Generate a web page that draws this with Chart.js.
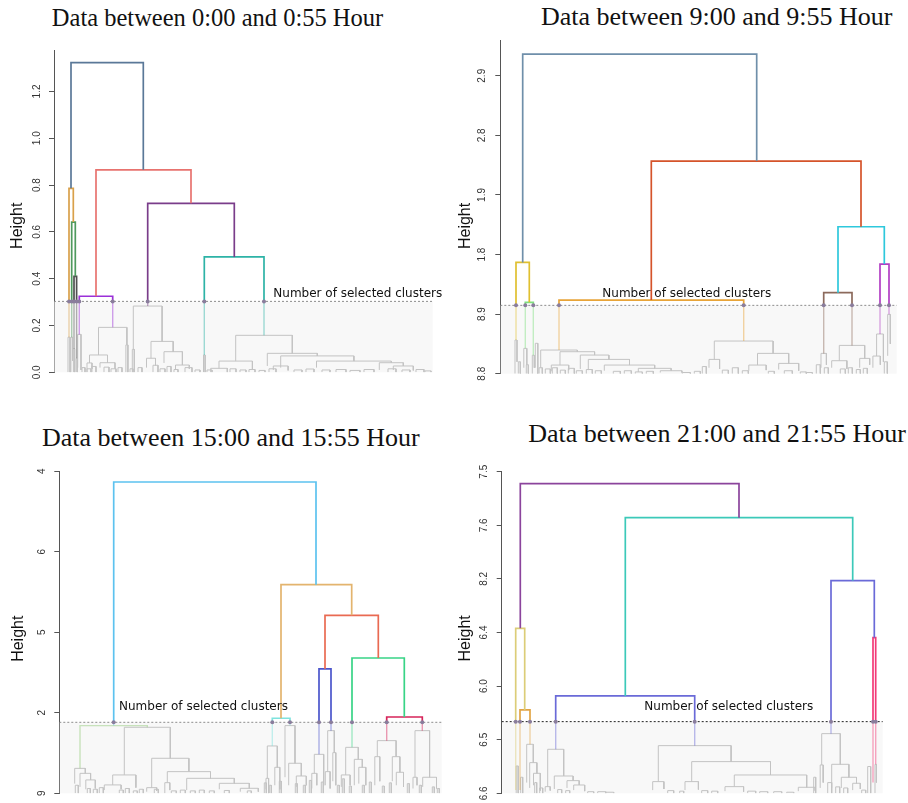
<!DOCTYPE html>
<html>
<head>
<meta charset="utf-8">
<script src="https://cdn.jsdelivr.net/npm/chart.js@4.4.1/dist/chart.umd.min.js"></script>
<style>
html, body { margin: 0; padding: 0; background: #fff; overflow: hidden; }
body { width: 908px; height: 803px; position: relative; }
.title { position: absolute; width: 500px; text-align: center; font-family: 'Liberation Serif', serif; line-height: 1; color: #111; white-space: nowrap; }
canvas { position: absolute; }
</style>
</head>
<body>
<div class="title" style="left:-32.5px; top:6px; font-size:24.5px">Data between 0:00 and 0:55 Hour</div>
<div class="title" style="left:466.7px; top:4.3px; font-size:26px">Data between 9:00 and 9:55 Hour</div>
<div class="title" style="left:-19.2px; top:424.8px; font-size:26px">Data between 15:00 and 15:55 Hour</div>
<div class="title" style="left:467px; top:421px; font-size:26px">Data between 21:00 and 21:55 Hour</div>
<canvas id="c1" width="450" height="390" style="left:0; top:0"></canvas>
<canvas id="c2" width="453" height="390" style="left:455px; top:0"></canvas>
<canvas id="c3" width="450" height="403" style="left:0; top:400px"></canvas>
<canvas id="c4" width="453" height="403" style="left:455px; top:400px"></canvas>
<script>
// merges are [left x, right x, height, left child height, right child height]
// x is the leaf position along the tree, leaves are [left x, right x, height]

// ---- 0:00 - 0:55
const p1Ticks = [0, 0.2, 0.4, 0.6, 0.8, 1.0, 1.2];
const p1TickLabels = ['0.0', '0.2', '0.4', '0.6', '0.8', '1.0', '1.2'];
const p1Top = 1.377;
const p1Span = 380;
const p1ShadeEnd = 378.7;
const p1Cut = 0.303;
const p1Clusters = [
  [17, 89.3, 1.323, 0.786, 0.865],
  [15, 19.3, 0.786, 0.15, 0.642],
  [17.7, 21.3, 0.642, 0.15, 0.41],
  [20, 22.6, 0.41, 0.1, 0.06],
  [42, 137, 0.865, 0.325, 0.722],
  [25.3, 58.7, 0.325, 0.162, 0.192],
  [93.7, 180.3, 0.722, 0.283, 0.493],
  [150.3, 210, 0.493, 0.074, 0.158]
];
const p1Colors = ['#5a7898', '#d9a04a', '#4f9a5e', '#505050', '#e8736f', '#9b30d8', '#7a3d8a', '#2db3a6'];
const p1Branches = [
  [14, 16, 0.15, 0, 0], [16.9, 18.5, 0.15, 0, 0.05], [19.4, 20.6, 0.1, 0, 0], [22, 23.2, 0.06, 0, 0],
  [23.7, 27, 0.162, 0.02, 0.01],
  [44.5, 72.9, 0.192, 0.074, 0.117], [35.5, 53.5, 0.074, 0.04, 0.041], [33, 38, 0.04, 0, 0.015],
  [46, 61, 0.041, 0.02, 0.015], [71.9, 73.9, 0.117, 0, 0],
  [79.3, 108.1, 0.283, 0.098, 0.132], [78.3, 80.3, 0.098, 0, 0], [97, 119.2, 0.132, 0.06, 0.088],
  [92.5, 101.5, 0.06, 0.02, 0.03], [110, 128.4, 0.088, 0.04, 0.031], [121.5, 135.3, 0.031, 0.01, 0.015],
  [149.5, 151.1, 0.074, 0, 0],
  [181.7, 238.3, 0.158, 0.048, 0.081], [165, 198.4, 0.048, 0.017, 0.012], [213.3, 263.3, 0.081, 0.027, 0.07],
  [226.7, 299.9, 0.07, 0.02, 0.048], [262.5, 337.3, 0.048, 0.02, 0.041], [325.3, 349.3, 0.041, 0.01, 0.027],
  [339.3, 359.3, 0.027, 0.01, 0.008], [219.3, 234.1, 0.027, 0.01, 0.008], [156.7, 173.3, 0.017, 0, 0]
];
const p1Leaves = [
  [28, 31, 0.02], [33, 37, 0.015], [38, 42, 0.025], [50, 55, 0.022], [57, 62, 0.015], [64, 68, 0.02],
  [76, 79, 0.015], [84, 88, 0.02], [99, 104, 0.03], [106, 111, 0.015], [113, 117, 0.025], [120, 124, 0.012],
  [131, 138, 0.02], [141, 146, 0.01], [153, 158, 0.01], [176, 182, 0.015], [186, 192, 0.01], [195, 201, 0.012],
  [205, 211, 0.008], [215, 222, 0.015], [240, 248, 0.01], [252, 260, 0.014], [268, 276, 0.01], [282, 292, 0.012],
  [296, 306, 0.008], [310, 320, 0.012], [334, 342, 0.015], [348, 356, 0.01], [362, 370, 0.012], [371, 377, 0.006]
];

// ---- 9:00 - 9:55
const p2Ticks = [0, 1, 2, 3, 4, 5];
const p2TickLabels = ['8.8', '8.9', '1.8', '1.9', '2.8', '2.9'];
const p2Top = 5.6;
const p2Span = 397.7;
const p2ShadeEnd = 396.4;
const p2Cut = 1.147;
const p2Clusters = [
  [22.4, 256.4, 5.364, 1.868, 3.568],
  [15.7, 29, 1.868, 0.565, 1.197],
  [25, 33, 1.197, 0.425, 0.31],
  [151, 360.7, 3.568, 1.236, 2.466],
  [58.7, 243.4, 1.236, 0.397, 0.548],
  [337.7, 384, 2.466, 1.359, 1.84],
  [323.4, 351.7, 1.359, 0.341, 0.475],
  [379.7, 388.7, 1.84, 0.666, 0.996]
];
const p2Colors = ['#6f8faa', '#e0c030', '#80e080', '#d5532a', '#e8a438', '#2ec8dc', '#8c6a5c', '#b23ec4'];
const p2Branches = [
  [14.7, 16.7, 0.565, 0, 0.2], [23.5, 26.5, 0.425, 0.1, 0.15], [32, 34, 0.31, 0, 0.1], [35, 37.5, 0.51, 0.1, 0],
  [40.4, 77, 0.397, 0.1, 0.369], [38.8, 42, 0.1, 0, 0], [59.7, 94.3, 0.369, 0.145, 0.313], [51, 68.4, 0.145, 0.04, 0.06],
  [80, 108.6, 0.313, 0.08, 0.24], [88, 129.2, 0.24, 0.06, 0.145], [104, 154.4, 0.145, 0.05, 0.09],
  [138, 170.8, 0.09, 0.03, 0.05], [160, 181.6, 0.05, 0.02, 0.02],
  [214, 272.8, 0.548, 0.24, 0.341], [208.7, 219.3, 0.24, 0.1, 0.08], [257.2, 288.4, 0.341, 0.145, 0.173],
  [248.5, 265.9, 0.145, 0.05, 0.06], [278.4, 298.4, 0.173, 0.07, 0.05],
  [320.7, 326.1, 0.341, 0.1, 0.15], [339, 364.4, 0.475, 0.218, 0.257], [331.4, 346.6, 0.218, 0.1, 0.08],
  [359.4, 369.4, 0.257, 0.1, 0.15], [376.3, 383.1, 0.666, 0.296, 0.2], [372.6, 380, 0.296, 0.1, 0.15],
  [387.4, 390, 0.996, 0.3, 0.5]
];
const p2Leaves = [
  [18, 20, 0.2], [26, 28, 0.15], [45, 50, 0.08], [52, 57, 0.1], [60, 65, 0.06], [68, 74, 0.09], [76, 82, 0.05],
  [86, 92, 0.07], [95, 101, 0.05], [113, 120, 0.04], [124, 131, 0.05], [135, 142, 0.03], [146, 153, 0.04],
  [182, 190, 0.02], [194, 200, 0.04], [202, 206, 0.12], [222, 228, 0.06], [232, 238, 0.1], [242, 248, 0.05],
  [268, 274, 0.04], [284, 292, 0.05], [300, 306, 0.03], [306, 312, 0.02], [316, 320, 0.15], [324, 328, 0.1],
  [340, 345, 0.08], [348, 352, 0.1], [356, 360, 0.07], [363, 367, 0.09], [384, 387, 0.2]
];

// ---- 15:00 - 15:55
const p3Ticks = [0, 1, 2, 3, 4];
const p3TickLabels = ['9', '2', '5', '6', '4'];
const p3Top = 4;
const p3Span = 383.2;
const p3ShadeEnd = 382.4;
const p3Cut = 0.882;
const p3Clusters = [
  [54.4, 256.7, 3.867, 0.841, 2.592],
  [221.7, 292.4, 2.592, 0.932, 2.211],
  [213, 230.7, 0.932, 0.588, 0.841],
  [265.7, 319, 2.211, 1.545, 1.681],
  [259.7, 271.7, 1.545, 0.484, 0.778],
  [292.7, 345, 1.681, 0.571, 0.948],
  [327.4, 363, 0.948, 0.654, 0.778],
  [20.7, 88, 0.841, 0.31, 0.82]
];
const p3Colors = ['#5cc2ef', '#e3b46e', '#7fe3de', '#e96a52', '#4b55cc', '#38d486', '#d6245a', '#8cc870'];
const p3Branches = [
  [15.4, 26, 0.31, 0.12, 0.248], [20.7, 31.3, 0.248, 0.08, 0.166], [26.5, 36, 0.166, 0.05, 0.06],
  [65, 111, 0.82, 0.228, 0.435], [53.4, 76.6, 0.228, 0.104, 0.07], [45, 61.8, 0.104, 0.04, 0.05],
  [92.4, 129.6, 0.435, 0.07, 0.269], [87.4, 97.4, 0.07, 0.02, 0.03], [108, 151.2, 0.269, 0.132, 0.186],
  [105.5, 110.5, 0.132, 0, 0.04], [127.4, 175, 0.186, 0.04, 0.124], [160, 190, 0.124, 0.05, 0.062],
  [181, 199, 0.062, 0.02, 0.02],
  [208, 218, 0.588, 0.186, 0.323], [206.7, 209.3, 0.186, 0.05, 0], [215.5, 220.5, 0.323, 0.1, 0.05],
  [225.7, 235.7, 0.841, 0.2, 0.373], [229.4, 242, 0.373, 0.1, 0.215], [237, 247, 0.215, 0.08, 0.1],
  [255, 264.4, 0.484, 0.248, 0.1], [252.5, 257.5, 0.248, 0.06, 0.1],
  [268.4, 275, 0.778, 0.269, 0.505], [266, 270.8, 0.269, 0.1, 0.06], [273.5, 276.5, 0.505, 0.15, 0.1],
  [286.4, 299, 0.571, 0.228, 0.422], [282, 290.8, 0.228, 0.08, 0.1], [295, 303, 0.422, 0.1, 0.323],
  [299.5, 306.5, 0.323, 0.12, 0.1],
  [318, 336.8, 0.654, 0.455, 0.455], [315.5, 320.5, 0.455, 0.1, 0.15], [333, 340.6, 0.455, 0.15, 0.261],
  [337, 344.2, 0.261, 0.1, 0.08],
  [355.7, 370.3, 0.778, 0.199, 0.199], [353.7, 357.7, 0.199, 0.06, 0.1], [363.4, 377.2, 0.199, 0.08, 0.06]
];
const p3Leaves = [
  [16, 19, 0.1], [28, 31, 0.06], [34, 38, 0.05], [40, 44, 0.07], [60, 64, 0.04], [66, 70, 0.06], [74, 78, 0.03],
  [80, 84, 0.05], [95, 99, 0.05], [112, 117, 0.03], [121, 126, 0.04], [131, 136, 0.03], [140, 145, 0.04],
  [150, 155, 0.03], [165, 170, 0.035], [188, 192, 0.03], [205, 207, 0.13], [210, 212, 0.1], [220, 222, 0.15],
  [236, 238, 0.12], [244, 246, 0.1], [250, 252, 0.16], [262, 264, 0.14], [278, 280, 0.1], [283, 285, 0.18],
  [290, 292, 0.09], [303, 305, 0.1], [310, 312, 0.14], [323, 325, 0.09], [330, 332, 0.13], [348, 350, 0.12],
  [360, 362, 0.1], [373, 375, 0.08], [378, 380, 0.06]
];

// ---- 21:00 - 21:55
const p4Ticks = [0, 1, 2, 3, 4, 5, 6];
const p4TickLabels = ['6.6', '6.5', '6.0', '6.4', '8.2', '7.6', '7.5'];
const p4Top = 6;
const p4Span = 381.8;
const p4ShadeEnd = 381;
const p4Cut = 1.337;
const p4Clusters = [
  [18.6, 237.3, 5.777, 3.078, 5.143],
  [14, 23, 3.078, 0.06, 1.555],
  [18.3, 28.3, 1.555, 0.06, 0.914],
  [123.6, 351, 5.143, 1.816, 3.968],
  [54, 193, 1.816, 0.821, 0.889],
  [329.3, 372.6, 3.968, 1.113, 2.904],
  [371.3, 374, 2.904, 0.2, 0.54]
];
const p4Colors = ['#8b449c', '#dccd78', '#e2a444', '#3cc9b9', '#6a6ad8', '#6a6ad8', '#f23a78'];
const p4Branches = [
  [25, 31.6, 0.914, 0.2, 0.572], [28, 35.2, 0.572, 0.1, 0.373], [31.8, 38.6, 0.373, 0.15, 0.05],
  [46, 62, 0.821, 0.124, 0.323], [43.5, 48.5, 0.124, 0.03, 0.05], [52.6, 71.4, 0.323, 0.08, 0.236],
  [65.3, 77.5, 0.236, 0.1, 0.155], [72, 83, 0.155, 0.06, 0.04],
  [156.6, 229.4, 0.889, 0.218, 0.591], [151, 162.2, 0.218, 0.06, 0.08], [190, 268.8, 0.591, 0.218, 0.342],
  [183.3, 196.7, 0.218, 0.06, 0.07], [232.6, 305, 0.342, 0.124, 0.112], [223.3, 241.9, 0.124, 0.04, 0.03],
  [296.6, 313.4, 0.112, 0.04, 0.05],
  [320, 338.6, 1.113, 0.529, 0.541], [318.5, 321.5, 0.529, 0.1, 0.2], [330, 347.2, 0.541, 0.1, 0.299],
  [339.6, 354.8, 0.299, 0.1, 0.187], [351, 358.6, 0.187, 0.06, 0.08],
  [14.5, 16.5, 0.51, 0, 0], [373.3, 374.7, 0.54, 0, 0.2]
];
const p4Leaves = [
  [19, 21, 0.3], [33, 35, 0.2], [38, 41, 0.1], [56, 60, 0.07], [64, 68, 0.05], [86, 92, 0.03], [96, 104, 0.03],
  [104, 112, 0.02], [166, 172, 0.05], [178, 182, 0.04], [200, 206, 0.05], [210, 216, 0.04], [246, 254, 0.04],
  [258, 266, 0.03], [272, 280, 0.03], [285, 292, 0.02], [312, 314, 0.3], [326, 330, 0.2], [334, 338, 0.12],
  [342, 346, 0.1], [360, 364, 0.06], [366, 369, 0.5]
];

const panels = [
  { id: 'c1', ticks: p1Ticks, tickLabels: p1TickLabels, top: p1Top, span: p1Span, shadeEnd: p1ShadeEnd, cut: p1Cut,
    clusters: p1Clusters, colors: p1Colors, branches: p1Branches, leaves: p1Leaves,
    axisW: 54, pad: { left: 0, right: 16, top: 50, bottom: 17.7 }, tickPad: 5,
    heightDx: -36.3, heightAt: 0.626, labelX: 219.3, labelLift: 4, cutColor: '#8c8c8c' },
  { id: 'c2', ticks: p2Ticks, tickLabels: p2TickLabels, top: p2Top, span: p2Span, shadeEnd: p2ShadeEnd, cut: p2Cut,
    clusters: p2Clusters, colors: p2Colors, branches: p2Branches, leaves: p2Leaves,
    axisW: 45.3, pad: { left: 0, right: 10, top: 40, bottom: 16.3 }, tickPad: 5.8,
    heightDx: -34.5, heightAt: 2.48, labelX: 102, labelLift: 8, cutColor: '#8c8c8c' },
  { id: 'c3', ticks: p3Ticks, tickLabels: p3TickLabels, top: p3Top, span: p3Span, shadeEnd: p3ShadeEnd, cut: p3Cut,
    clusters: p3Clusters, colors: p3Colors, branches: p3Branches, leaves: p3Leaves,
    axisW: 59.3, pad: { left: 0, right: 7.5, top: 71.3, bottom: 9.7 }, tickPad: 9.3,
    heightDx: -41, heightAt: 1.92, labelX: 59.7, labelLift: 12.3, cutColor: '#8c8c8c' },
  { id: 'c4', ticks: p4Ticks, tickLabels: p4TickLabels, top: p4Top, span: p4Span, shadeEnd: p4ShadeEnd, cut: p4Cut,
    clusters: p4Clusters, colors: p4Colors, branches: p4Branches, leaves: p4Leaves,
    axisW: 46.7, pad: { left: 0, right: 24.5, top: 71.7, bottom: 9.7 }, tickPad: 5,
    heightDx: -35.9, heightAt: 2.89, labelX: 142.6, labelLift: 11.7, cutColor: '#222' }
];

const GREY = '#c3c3c3';

function fade(hex, a) {
  const n = parseInt(hex.slice(1), 16);
  return 'rgba(' + (n >> 16) + ',' + ((n >> 8) & 255) + ',' + (n & 255) + ',' + a + ')';
}

function ushape(xl, xr, h, hl, hr) {
  return [{ x: xl, y: hl }, { x: xl, y: h }, { x: xr, y: h }, { x: xr, y: hr }];
}

function line(points, color, width, order) {
  return { data: points, showLine: true, borderColor: color, borderWidth: width,
    pointRadius: 0, fill: false, tension: 0, order: order };
}

function buildDatasets(p) {
  const sets = [];
  p.branches.forEach(b => sets.push(line(ushape(b[0], b[1], b[2], b[3], b[4]), GREY, 1, 6)));
  p.leaves.forEach(l => sets.push(line(ushape(l[0], l[1], l[2], 0, 0), GREY, 1, 6)));

  const dots = [];
  p.clusters.forEach((m, i) => {
    const [xl, xr, h, hl, hr] = m;
    const col = p.colors[i];
    const light = fade(col, 0.45);
    if (h <= p.cut) {
      sets.push(line(ushape(xl, xr, h, hl, hr), light, 1.4, 5));
      return;
    }
    sets.push(line(ushape(xl, xr, h, Math.max(hl, p.cut), Math.max(hr, p.cut)), col, 1.7, 4));
    [[xl, hl], [xr, hr]].forEach(([x, y0]) => {
      if (y0 < p.cut) {
        sets.push(line([{ x: x, y: y0 }, { x: x, y: p.cut }], light, 1.4, 5));
        dots.push({ x: x, y: p.cut });
      }
    });
  });

  const cutLine = line([{ x: 0, y: p.cut }, { x: p.shadeEnd, y: p.cut }], p.cutColor, 1, 2);
  cutLine.borderDash = [2, 2];
  sets.push(cutLine);
  sets.push({ data: dots, showLine: false, pointRadius: 2, pointBackgroundColor: '#8a7d9c',
    pointBorderWidth: 0, order: 1 });
  return sets;
}

function decorations(p) {
  return {
    id: 'deco-' + p.id,
    beforeDatasetsDraw(chart) {
      const { ctx, scales: { x, y } } = chart;
      const x0 = x.getPixelForValue(0) + 0.5;
      const x1 = x.getPixelForValue(p.shadeEnd);
      const yc = y.getPixelForValue(p.cut);
      const yb = y.getPixelForValue(0);
      ctx.save();
      ctx.fillStyle = '#f8f8f8';
      ctx.fillRect(x0, yc, x1 - x0, yb - yc);
      ctx.restore();
    },
    afterDraw(chart) {
      const { ctx, chartArea, scales: { x, y } } = chart;
      ctx.save();
      ctx.fillStyle = '#111';
      ctx.font = '12px "DejaVu Sans"';
      ctx.textAlign = 'left';
      ctx.textBaseline = 'alphabetic';
      ctx.fillText('Number of selected clusters', x.getPixelForValue(p.labelX), y.getPixelForValue(p.cut) - p.labelLift);
      ctx.translate(chartArea.left + p.heightDx, y.getPixelForValue(p.heightAt));
      ctx.rotate(-Math.PI / 2);
      ctx.font = '16px "Liberation Sans"';
      ctx.textAlign = 'center';
      ctx.textBaseline = 'middle';
      ctx.fillText('Height', 0, 0);
      ctx.restore();
    }
  };
}

panels.forEach(p => {
  new Chart(document.getElementById(p.id), {
    type: 'scatter',
    data: { datasets: buildDatasets(p) },
    options: {
      responsive: false,
      animation: false,
      devicePixelRatio: 1,
      events: [],
      layout: { padding: p.pad },
      plugins: { legend: { display: false }, tooltip: { enabled: false } },
      scales: {
        x: { type: 'linear', display: false, min: 0, max: p.span },
        y: {
          type: 'linear',
          min: 0,
          max: p.top,
          afterBuildTicks: s => { s.ticks = p.ticks.map(v => ({ value: v })); },
          afterFit: s => { s.width = p.axisW; s.paddingTop = 0; s.paddingBottom = 0; },
          ticks: {
            callback: (v, i) => p.tickLabels[i],
            minRotation: 90,
            maxRotation: 90,
            crossAlign: 'center',
            padding: p.tickPad,
            autoSkip: false,
            color: '#333',
            font: { family: 'Liberation Sans', size: 10 }
          },
          grid: { drawOnChartArea: false, drawTicks: true, tickLength: 5, color: '#555' },
          border: { display: true, color: '#555', width: 1 }
        }
      }
    },
    plugins: [decorations(p)]
  });
});
</script>
</body>
</html>
